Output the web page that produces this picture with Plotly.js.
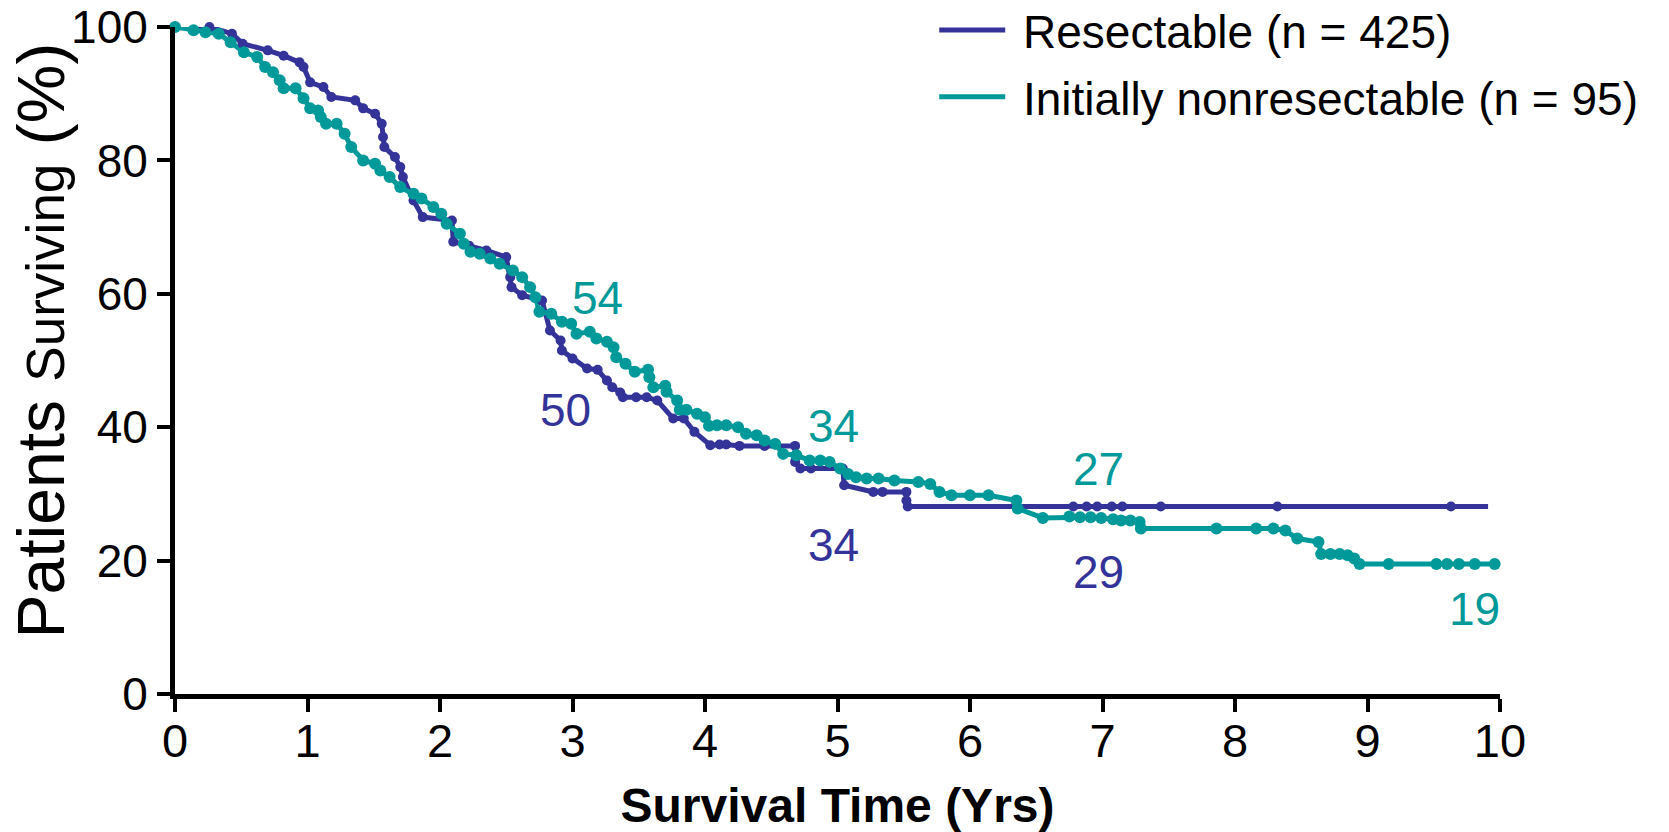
<!DOCTYPE html>
<html>
<head>
<meta charset="utf-8">
<script src="https://cdn.plot.ly/plotly-3.0.1.min.js"></script>
<style>html,body{margin:0;padding:0;background:#fff;}#chart{width:1669px;height:832px;}</style>
</head>
<body>
<div id="chart"></div>
<script>
// ---- data ----
const resectableYears = [0,0.26,0.43,0.51,0.70,0.82,0.94,0.97,1.02,1.12,1.18,1.36,1.42,1.51,1.56,1.57,1.58,1.66,1.70,1.72,1.80,1.87,2.09,2.10,2.22,2.35,2.50,2.53,2.54,2.62,2.77,2.83,2.91,2.92,3.00,3.11,3.19,3.26,3.30,3.36,3.38,3.48,3.56,3.64,3.76,3.84,3.92,4.04,4.11,4.16,4.26,4.45,4.68,4.68,4.72,4.80,5.04,5.05,5.27,5.34,5.52,5.52,5.53,6.78,6.88,6.96,7.07,7.15,7.44,8.32,9.63,9.91];
const resectableSurv  = [100,100,99,97.5,96.5,95.7,94.7,94,91.7,91,89.5,89,87.8,87,85.5,83.5,82,80.5,79,77.5,74,71.5,71,67.8,67.2,66.5,65.5,62.5,61,59.8,59,54.5,53,51.5,50.3,48.8,48.6,47,46,45.2,44.5,44.5,44.5,44,41.3,41.3,39.3,37.3,37.4,37.4,37.2,37.2,37.2,34.8,33.8,33.8,33.8,31.3,30.3,30.3,30.3,29,28.1,28.1,28.1,28.1,28.1,28.1,28.1,28.1,28.1,28.1];

const nonresYears = [0,0.14,0.23,0.33,0.42,0.52,0.62,0.68,0.74,0.79,0.82,0.91,0.97,1.02,1.08,1.10,1.14,1.22,1.28,1.33,1.42,1.51,1.55,1.62,1.70,1.80,1.86,1.95,2.01,2.05,2.15,2.18,2.23,2.30,2.38,2.45,2.55,2.62,2.68,2.72,2.75,2.84,2.92,2.99,3.03,3.13,3.18,3.26,3.31,3.33,3.40,3.47,3.57,3.58,3.61,3.70,3.71,3.79,3.81,3.86,3.94,4.00,4.03,4.09,4.16,4.25,4.31,4.39,4.45,4.53,4.59,4.69,4.79,4.87,4.94,5.02,5.08,5.14,5.22,5.31,5.43,5.61,5.70,5.77,5.86,6.00,6.14,6.35,6.36,6.55,6.75,6.83,6.91,6.99,7.08,7.14,7.21,7.28,7.29,7.86,8.16,8.29,8.38,8.47,8.63,8.65,8.72,8.79,8.85,8.90,8.94,9.16,9.52,9.60,9.69,9.81,9.96];
const nonresSurv  = [100,99.5,99.2,99,97.7,96.2,95.5,94,93.2,92,90.8,90.8,89.3,87.8,87.5,86.5,85.5,85.5,84,82,80,79.5,78.5,77.5,76,75,74.3,73,72,70.5,69,67.5,66.3,66,65.3,64.5,63.5,62.5,61,59.5,57.3,57,55.8,55.5,54,54.3,53.3,52.8,52,50.5,49.5,48.3,48.6,47.5,46,46.2,45.3,44,42.6,42.6,42,41.5,40.2,40.3,40.3,40,39,38.8,38,37.5,36,35.8,35,35,34.8,33.8,33,32.5,32.3,32.3,32,31.8,31.5,30.3,29.8,29.8,29.8,29,27.8,26.4,26.6,26.5,26.5,26.4,26.2,26,26,25.8,24.8,24.8,24.8,24.8,24.5,23.3,22.8,21,21,21,20.8,20.3,19.5,19.5,19.5,19.5,19.5,19.5,19.5];

const seriesNames = ['Resectable (n = 425)', 'Initially nonresectable (n = 95)'];
const xTickVals = [0,1,2,3,4,5,6,7,8,9,10];
const yTickVals = [0,20,40,60,80,100];
const milestoneLabels = ['54','50','34','34','27','29','19'];

const BLUE = '#333399';
const TEAL = '#009999';
const FONT = 'Liberation Sans, Arial, Helvetica, sans-serif';

const traces = [
  {x: resectableYears, y: resectableSurv, mode: 'lines', name: '\u00a0' + seriesNames[0], legendgroup: 'a',
   line: {color: BLUE, width: 5}, cliponaxis: false, hoverinfo: 'skip'},
  {x: nonresYears, y: nonresSurv, mode: 'lines', name: '\u00a0' + seriesNames[1], legendgroup: 'b',
   line: {color: TEAL, width: 5}, cliponaxis: false, hoverinfo: 'skip'},
  {x: resectableYears.slice(0, -1), y: resectableSurv.slice(0, -1), mode: 'markers', showlegend: false,
   marker: {color: BLUE, size: 10}, cliponaxis: false, hoverinfo: 'skip'},
  {x: nonresYears, y: nonresSurv, mode: 'markers', showlegend: false,
   marker: {color: TEAL, size: 12}, cliponaxis: false, hoverinfo: 'skip'}
];

const labelStyle = [
  {x: 3.19, y: 59.3, c: TEAL}, {x: 2.95, y: 42.6, c: BLUE},
  {x: 4.97, y: 40.2, c: TEAL}, {x: 4.97, y: 22.3, c: BLUE},
  {x: 6.97, y: 33.8, c: TEAL}, {x: 6.97, y: 18.3, c: BLUE},
  {x: 9.81, y: 12.8, c: TEAL}
];

const annotations = milestoneLabels.map((t, i) => ({
  text: t, x: labelStyle[i].x, y: labelStyle[i].y, xref: 'x', yref: 'y',
  showarrow: false, xanchor: 'center', yanchor: 'middle',
  font: {family: FONT, size: 46, color: labelStyle[i].c}
}));

annotations.push({
  text: 'Patients <span style="font-size:53px">Surviving</span> (%)',
  xref: 'paper', yref: 'paper', x: -0.1004, y: 0.530,
  xanchor: 'center', yanchor: 'middle', textangle: -90, showarrow: false,
  font: {family: FONT, size: 66, color: '#000'}
});

const layout = {
  width: 1669, height: 832,
  margin: {l: 175, r: 169, t: 27, b: 138, autoexpand: false},
  paper_bgcolor: '#fff', plot_bgcolor: '#fff',
  font: {family: FONT, color: '#000'},
  showlegend: true,
  legend: {
    x: 0.573, y: 1.05, xanchor: 'left', yanchor: 'top',
    font: {family: FONT, size: 46, color: '#000'},
    itemwidth: 66, traceorder: 'grouped', tracegroupgap: 4,
    bgcolor: 'rgba(0,0,0,0)'
  },
  xaxis: {
    range: [0, 10], tickvals: xTickVals, ticktext: xTickVals.map(String),
    showgrid: false, zeroline: false, showline: true, linecolor: '#000', linewidth: 5,
    ticks: 'outside', ticklen: 13, tickwidth: 4, tickcolor: '#000',
    ticklabelstandoff: -11,
    tickfont: {family: FONT, size: 47, color: '#000'},
    title: {text: '<b>Survival Time (Yrs)</b>', font: {family: FONT, size: 48, color: '#000'}, standoff: 24}
  },
  yaxis: {
    range: [0, 100], tickvals: yTickVals, ticktext: yTickVals.map(String),
    showgrid: false, zeroline: false, showline: true, linecolor: '#000', linewidth: 5,
    ticks: 'outside', ticklen: 13, tickwidth: 4, tickcolor: '#000',
    tickfont: {family: FONT, size: 46, color: '#000'}
  },
  annotations: annotations
};

Plotly.newPlot('chart', traces, layout, {staticPlot: true, displayModeBar: false});
</script>
</body>
</html>
